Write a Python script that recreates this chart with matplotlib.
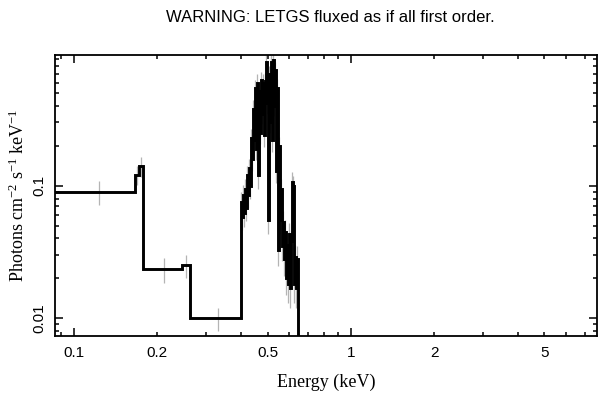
import numpy as np
import matplotlib
matplotlib.use("Agg")
import matplotlib.pyplot as plt
from matplotlib.ticker import FixedLocator, FuncFormatter, NullFormatter

plt.rcParams['font.family'] = ['Liberation Sans', 'DejaVu Sans']
plt.rcParams['mathtext.fontset'] = 'custom'
plt.rcParams['mathtext.rm'] = 'Liberation Serif'
plt.rcParams['mathtext.it'] = 'Liberation Serif:italic'

# ---- data: bin edges (keV) and flux values ----
broad_edges = [0.080, 0.166, 0.172, 0.178, 0.246, 0.2625]
broad_vals = [0.090, 0.121, 0.141, 0.0234, 0.0252, 0.0100]
broad_errs = [0.019, 0.020, 0.024, 0.0050, 0.0050, 0.0020]

dense_edges = [0.4000, 0.4033, 0.4067, 0.4101, 0.4136, 0.4170, 0.4206, 0.4241,
               0.4277, 0.4312, 0.4349, 0.4385, 0.4421, 0.4459, 0.4496, 0.4534,
               0.4572, 0.4610, 0.4649, 0.4687, 0.4727, 0.4767, 0.4807, 0.4847,
               0.4887, 0.4929, 0.4970, 0.5011, 0.5054, 0.5096, 0.5138, 0.5182,
               0.5225, 0.5269, 0.5314, 0.5358, 0.5402, 0.5448, 0.5494, 0.5540,
               0.5586, 0.5633, 0.5680, 0.5728, 0.5777, 0.5825, 0.5873, 0.5922,
               0.5972, 0.6023, 0.6073, 0.6124, 0.6175, 0.6227, 0.6279, 0.6332,
               0.6385, 0.6438]
dense_vals = [0.075, 0.058, 0.085, 0.062, 0.095, 0.068, 0.120, 0.085,
              0.135, 0.100, 0.230, 0.160, 0.380, 0.220, 0.550, 0.190,
              0.600, 0.120, 0.520, 0.250, 0.630, 0.350, 0.600, 0.240,
              0.620, 0.860, 0.420, 0.055, 0.700, 0.300, 0.850, 0.220,
              0.880, 0.400, 0.750, 0.130, 0.550, 0.033, 0.200, 0.055,
              0.095, 0.035, 0.053, 0.028, 0.045, 0.020, 0.036, 0.018,
              0.043, 0.017, 0.038, 0.107, 0.100, 0.018, 0.029, 0.017,
              0.028]
dense_errs = [0.015, 0.012, 0.016, 0.013, 0.018, 0.014, 0.022, 0.017,
              0.025, 0.020, 0.040, 0.030, 0.060, 0.040, 0.080, 0.035,
              0.090, 0.025, 0.080, 0.045, 0.090, 0.060, 0.090, 0.045,
              0.090, 0.110, 0.070, 0.012, 0.100, 0.050, 0.110, 0.040,
              0.110, 0.065, 0.100, 0.025, 0.085, 0.008, 0.035, 0.012,
              0.018, 0.008, 0.011, 0.007, 0.010, 0.005, 0.008, 0.005,
              0.009, 0.005, 0.008, 0.020, 0.019, 0.005, 0.007, 0.005,
              0.007]
tail_edge = 0.70
tail_val = 1e-5

title = "WARNING: LETGS fluxed as if all first order."
xlabel = "Energy (keV)"
ylabel = r"Photons cm$^{-2}$ s$^{-1}$ keV$^{-1}$"
xlim = (0.0854, 7.74)
ylim = (0.00735, 0.968)

edges = np.array(broad_edges + dense_edges + [tail_edge])
vals = np.array(broad_vals + dense_vals + [tail_val])
errs = np.array(broad_errs + dense_errs + [0.0])
centers = 0.5 * (edges[:-1] + edges[1:])

fig = plt.figure(figsize=(6.09, 3.99), dpi=100)
ax = fig.add_axes([55/609, 1-336/399, (597-55)/609, (336-55)/399])
ax.set_xscale('log')
ax.set_yscale('log')

m = errs > 0
ax.vlines(centers[m], vals[m] - errs[m], vals[m] + errs[m], colors='#b4b4b4',
          linewidth=0.9, zorder=1)
ax.stairs(vals, edges, color='black', linewidth=2.1, baseline=None, zorder=2)

ax.set_xlim(*xlim)
ax.set_ylim(*ylim)

# x ticks
ax.xaxis.set_major_locator(FixedLocator([0.1, 1.0]))
xminor = [0.09, 0.2, 0.3, 0.4, 0.5, 0.6, 0.7, 0.8, 0.9, 2, 3, 4, 5, 6, 7]
ax.xaxis.set_minor_locator(FixedLocator(xminor))
def xfmt(v, pos):
    lab = {0.1: '0.1', 0.2: '0.2', 0.5: '0.5', 1.0: '1', 2.0: '2', 5.0: '5'}
    for k, s in lab.items():
        if abs(v - k) < 1e-9:
            return s
    return ''
ax.xaxis.set_major_formatter(FuncFormatter(xfmt))
ax.xaxis.set_minor_formatter(FuncFormatter(xfmt))

# y ticks
ax.yaxis.set_major_locator(FixedLocator([0.01, 0.1]))
yminor = [0.008, 0.009, 0.02, 0.03, 0.04, 0.05, 0.06, 0.07, 0.08, 0.09,
          0.2, 0.3, 0.4, 0.5, 0.6, 0.7, 0.8, 0.9]
ax.yaxis.set_minor_locator(FixedLocator(yminor))
ax.yaxis.set_major_formatter(FuncFormatter(lambda v, p: '0.01' if abs(v-0.01) < 1e-12 else ('0.1' if abs(v-0.1) < 1e-12 else '')))
ax.yaxis.set_minor_formatter(NullFormatter())

ax.tick_params(which='both', direction='in', top=True, right=True,
               labelsize=11, width=1.1, color='black')
ax.tick_params(which='major', length=6)
ax.tick_params(which='minor', length=3)
ax.tick_params(axis='x', which='both', pad=7)
ax.tick_params(axis='y', which='both', pad=6)
for lab in ax.get_yticklabels():
    lab.set_rotation(90)
    lab.set_va('center')

for s in ax.spines.values():
    s.set_linewidth(1.3)

ax.set_xlabel(xlabel, family='Liberation Serif', fontsize=13, labelpad=10)
ax.set_ylabel(ylabel, family='Liberation Serif', fontsize=13, labelpad=3)
fig.text(330/609, 1-18/399, title, ha='center', va='center', fontsize=12)

fig.savefig('out.png', dpi=100)
